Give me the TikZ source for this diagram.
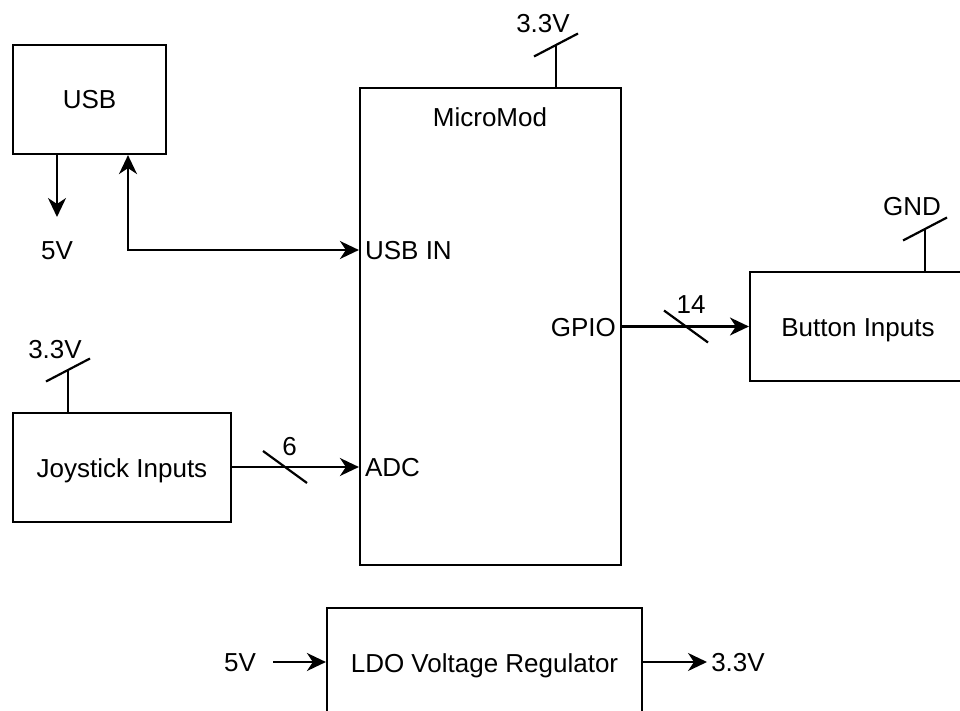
\documentclass[tikz,border=0pt]{standalone}
\usepackage{fontspec}
\setmainfont{Liberation Sans}
\usetikzlibrary{arrows.meta}
\begin{document}
\begin{tikzpicture}[x=1pt,y=-1pt,
  line width=2.2pt,
  every node/.style={font=\fontsize{26}{31}\selectfont, inner sep=0pt, text height=19pt, text depth=0pt},
  box/.style={draw, rectangle, minimum height=109pt},
  tip/.style={-{Stealth[length=19pt,width=18pt,inset=6pt]}},
  dtip/.style={{Stealth[length=19pt,width=18pt,inset=6pt]}-{Stealth[length=19pt,width=18pt,inset=6pt]}}
]
\useasboundingbox (0,0) rectangle (960,711);
\clip (0,0) rectangle (960,711);

% boxes
\node[box, minimum width=153pt] (usb) at (89.5,99.5) {USB};
\node[box, minimum width=261pt, minimum height=477pt] (micro) at (490.5,326.5) {};
\node (mmlabel) at (490,117) {MicroMod};
\node[box, minimum width=216pt] (btn) at (858,326.5) {Button Inputs};
\node[box, minimum width=218pt] (joy) at (122,467.5) {Joystick Inputs};
\node[box, minimum width=315pt] (ldo) at (484.5,662.5) {LDO Voltage Regulator};

% port labels inside MicroMod
\node[anchor=west] (usbin) at (364,250) {USB IN};
\node[anchor=west] (adc) at (364,467) {ADC};
\node[anchor=east] (gpio) at (617,326.5) {GPIO};

% USB 5V output
\coordinate (fivetip) at (57,217);
\node (fivev) at (57,249.5) {5V};
\draw[tip] (usb.south -| fivetip) -- (fivetip);

% USB <-> USB IN
\coordinate (usbx) at (128,0);
\draw[dtip] (usb.south -| usbx) |- (micro.west |- usbin);

% MicroMod 3.3V rail
\coordinate (mtop) at (556,45);
\node (mv) at (543,23.5) {3.3V};
\draw (micro.north -| mtop) -- (mtop);
\draw ([shift={(-22,11.5)}]mtop) -- ([shift={(22,-11.5)}]mtop);

% GPIO -> Button inputs (14)
\draw[tip] (micro.east |- gpio) -- (btn.west |- gpio);
\coordinate (gslash) at (686,326.5);
\draw ([shift={(-22,-16)}]gslash) -- ([shift={(22,16)}]gslash);
\node (n14) at (691,304) {14};

% GND rail of button inputs
\coordinate (gtop) at (925,229);
\node (gnd) at (912,206.5) {GND};
\draw (btn.north -| gtop) -- (gtop);
\draw ([shift={(-22,11.5)}]gtop) -- ([shift={(22,-11.5)}]gtop);

% Joystick 3.3V rail
\coordinate (jtop) at (68,370);
\node (jv) at (55,349) {3.3V};
\draw (joy.north -| jtop) -- (jtop);
\draw ([shift={(-22,11.5)}]jtop) -- ([shift={(22,-11.5)}]jtop);

% Joystick -> ADC (6)
\draw[tip] (joy.east |- adc) -- (micro.west |- adc);
\coordinate (jslash) at (285,467);
\draw ([shift={(-22,-16)}]jslash) -- ([shift={(22,16)}]jslash);
\node (n6) at (289.5,445.5) {6};

% LDO
\node (ldoin) at (240,662) {5V};
\coordinate (ldoinst) at (273,662);
\draw[tip] (ldoinst) -- (ldo.west |- ldoinst);
\coordinate (ldoouttip) at (707,662);
\draw[tip] (ldo.east |- ldoouttip) -- (ldoouttip);
\node (ldoout) at (738,662) {3.3V};
\end{tikzpicture}
\end{document}
